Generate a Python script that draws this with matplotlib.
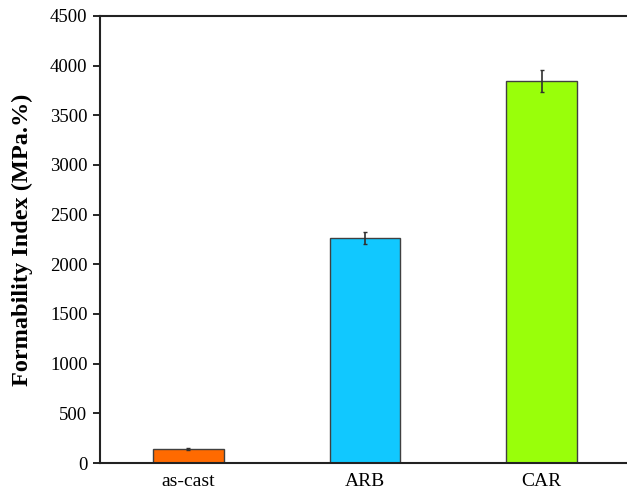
import matplotlib
matplotlib.use("Agg")
import matplotlib.pyplot as plt

categories = ["as-cast", "ARB", "CAR"]
values = [141, 2266, 3845]
errors = [10, 60, 110]
colors = ["#FF6A00", "#11C8FF", "#99FF0A"]
yticks = [0, 500, 1000, 1500, 2000, 2500, 3000, 3500, 4000, 4500]

plt.rcParams["font.family"] = ["Liberation Serif", "DejaVu Serif"]

fig = plt.figure(figsize=(6.27, 4.95), dpi=100)
ax = fig.add_axes([100/627, 1 - 463/495, 530/627, (463 - 16)/495])

x = list(range(len(categories)))
ax.bar(x, values, width=0.4, color=colors, edgecolor="#404040", linewidth=1.0,
       yerr=errors, error_kw=dict(ecolor="#303030", elinewidth=1.2, capsize=1.5, capthick=1.0))

ax.set_xlim(-0.5, 2.5)
ax.set_ylim(0, 4500)
ax.set_yticks(yticks)
ax.set_xticks(x)
ax.set_xticklabels(categories)
ax.tick_params(axis="x", length=0, labelsize=14, pad=7)
ax.tick_params(axis="y", direction="out", length=5, width=1.2, labelsize=13.5, pad=4)
for s in ax.spines.values():
    s.set_linewidth(1.5)
    s.set_color("#222222")
ax.set_ylabel("Formability Index (MPa.%)", fontsize=17.5, fontweight="bold", labelpad=12)

fig.savefig("out.png", dpi=100)
